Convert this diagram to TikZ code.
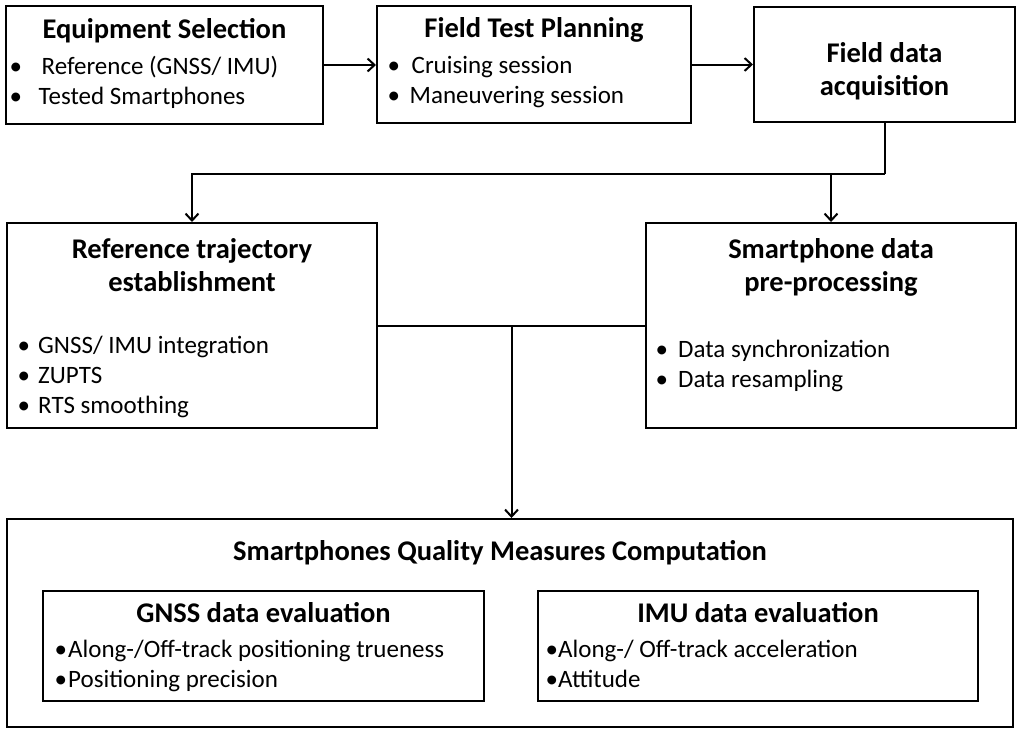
\documentclass[tikz,border=0pt]{standalone}
\usepackage{fontspec}
\setmainfont{Carlito}
\usetikzlibrary{positioning,arrows.meta}
\newcommand{\bul}[1][20pt]{\makebox[#1][l]{\textbullet}}
\tikzset{
        box/.style={draw, line width=2pt, anchor=north west, inner sep=0pt},
        ttl/.style={font=\bfseries\fontsize{28.5}{33}\selectfont, align=center, inner sep=0pt, execute at begin node=\strut},
        itm/.style={font=\fontsize{25}{30}\selectfont, align=left, inner sep=0pt, execute at begin node=\strut},
        flow/.style={line width=2pt, -{Straight Barb[length=7pt,width=13pt]}},
        link/.style={line width=2pt},
}
\begin{document}
\begin{tikzpicture}[x=1pt, y=-1pt]
        \useasboundingbox (0,0) rectangle (1024,731);
        \node[box, minimum width=317pt, minimum height=118pt] (eqsel) at (5,5) {};
        \node[box, minimum width=314pt, minimum height=117pt] (ftplan) at (376,5) {};
        \node[box, minimum width=261pt, minimum height=115pt] (fdacq) at (753,6) {};
        \node[box, minimum width=370pt, minimum height=205pt] (reftraj) at (6,222) {};
        \node[box, minimum width=370pt, minimum height=205pt] (sppre) at (645,222) {};
        \node[box, minimum width=1006pt, minimum height=208pt] (sqm) at (6,518) {};
        \node[box, minimum width=441pt, minimum height=110pt] (gnss) at (42,590) {};
        \node[box, minimum width=440pt, minimum height=110pt] (imu) at (537,590) {};

        \node[ttl, below=10pt of eqsel.north] (eqsel-t) {Equipment Selection};
        \node[itm, below right=51.5pt and 4.5pt of eqsel.north west] (eqsel-i)
            {\bul[29pt]\hspace{3pt}Reference (GNSS/ IMU)\\ \bul[29pt]Tested Smartphones};
        \node[ttl, below=9pt of ftplan.north] (ftplan-t) {Field Test Planning};
        \node[itm, below right=51pt and 11.5pt of ftplan.north west] (ftplan-i)
            {\bul[22pt]\hspace{2pt}Cruising session\\ \bul[22pt]Maneuvering session};
        \node[ttl, below=36pt of fdacq.north] (fdacq-t) {Field data\\ acquisition};
        \node[ttl, below=16pt of reftraj.north] (reftraj-t) {Reference trajectory\\ establishment};
        \node[itm, below right=114pt and 11.5pt of reftraj.north west] (reftraj-i)
            {\bul[20.5pt]GNSS/ IMU integration\\ \bul[20.5pt]ZUPTS\\ \bul[20.5pt]RTS smoothing};
        \node[ttl, below=16pt of sppre.north] (sppre-t) {Smartphone data\\ pre-processing};
        \node[itm, below right=118pt and 10.5pt of sppre.north west] (sppre-i)
            {\bul[22.5pt]Data synchronization\\ \bul[22.5pt]Data resampling};
        \node[ttl, below=19pt of sqm.north, xshift=-10pt] (sqm-t) {Smartphones Quality Measures Computation};
        \node[ttl, below=9.5pt of gnss.north] (gnss-t) {GNSS data evaluation};
        \node[itm, below right=50pt and 12.5pt of gnss.north west] (gnss-i)
            {\bul[13.5pt]Along-/Off-track positioning trueness\\ \bul[13.5pt]Positioning precision};
        \node[ttl, below=9.5pt of imu.north] (imu-t) {IMU data evaluation};
        \node[itm, below right=50pt and 8.5pt of imu.north west] (imu-i)
            {\bul[12.5pt]Along-/ Off-track acceleration\\ \bul[12.5pt]Attitude};

        \draw[flow] (eqsel.east) -- (eqsel.east -| ftplan.west);
        \draw[flow] (ftplan.east) -- (ftplan.east -| fdacq.west);
        \draw[link] (fdacq.south) -- ++(0,51) coordinate (split);
        \draw[flow] (split) -| (reftraj.north);
        \draw[flow] (split -| sppre.north) -- (sppre.north);
        \draw[link] (reftraj.east) -- coordinate[midway] (merge) (sppre.west);
        \draw[flow] (merge) -- (merge |- sqm.north);
\end{tikzpicture}
\end{document}
